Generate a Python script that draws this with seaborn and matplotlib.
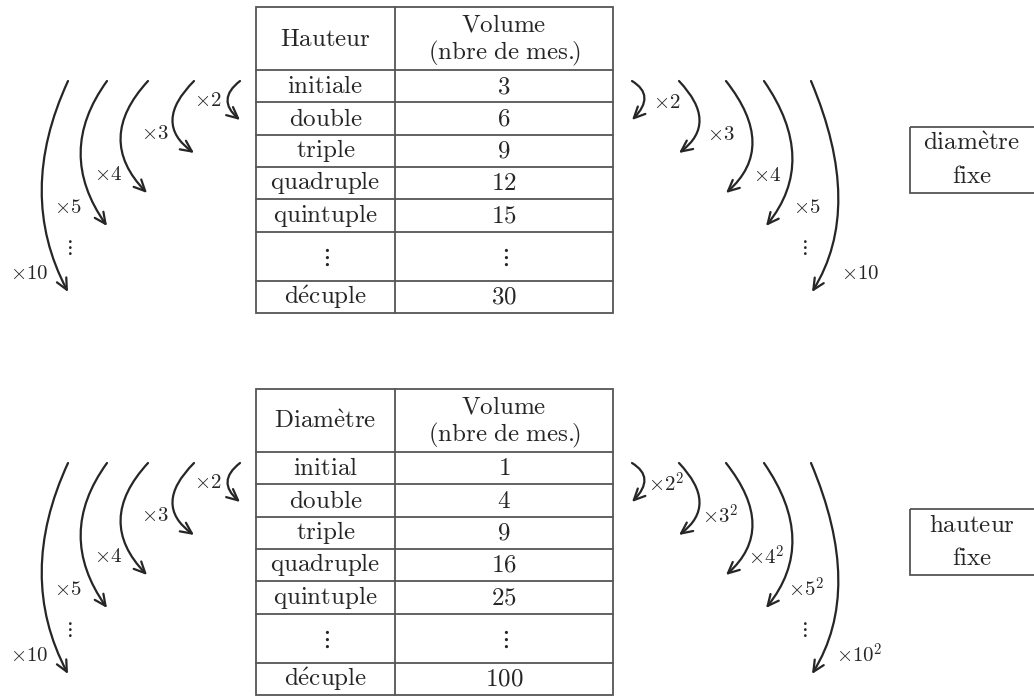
import matplotlib
matplotlib.use("Agg")
import matplotlib.pyplot as plt
import seaborn as sns
from matplotlib.path import Path
from matplotlib.patches import FancyArrowPatch, Rectangle

sns.set_theme(style="white")
plt.rcParams["mathtext.fontset"] = "cm"

# donnees
hauteurs = ["initiale", "double", "triple", "quadruple", "quintuple", "⋮", "décuple"]
volumes_h = ["3", "6", "9", "12", "15", "⋮", "30"]
diametres = ["initial", "double", "triple", "quadruple", "quintuple", "⋮", "décuple"]
volumes_d = ["1", "4", "9", "16", "25", "⋮", "100"]
facteurs = ["2", "3", "4", "5", "10"]

# mise en page (pixels)
row_edges = [7, 70, 102, 135, 167, 199, 232, 281, 313]
x_left, x_mid, x_right = 256, 395, 613
shift = 382

arr_left = [((240, 81), (228, 100), (240, 120)),
            ((194, 81), (173, 120), (194, 153)),
            ((148, 81), (121, 138), (147, 193)),
            ((107, 81), (81, 153), (107, 226)),
            ((68, 81), (42, 190), (68, 292))]
arr_right = [((632, 81), (644, 98), (632, 120)),
             ((679, 81), (699, 120), (679, 153)),
             ((726, 81), (752, 142), (726, 193)),
             ((764, 81), (792, 157), (766, 226)),
             ((811, 81), (838, 197), (812, 292))]
lab_left = [(208, 100), (155, 133), (108, 174), (68, 207), (29, 273)]
dots_left = (68, 247)
lab_right = [(653, 102), (707, 134), (753, 175), (793, 207), (841, 273)]
dots_right = (803, 247)

TXT = "#262626"
LINE = "#555555"
FS = 18
FS_LAB = 15


def tex(s):
    if s == "⋮":
        return r"$\vdots$"
    s = s.replace("é", r"\acute{e}").replace("è", r"\grave{e}").replace(" ", r"\ ")
    s = s.replace(".)", r".\!\!)")
    return r"$\mathrm{" + s + "}$"


def arrow(ax, p0, b, p2, dy):
    p0 = (p0[0], p0[1] + dy)
    b = (b[0], b[1] + dy)
    p2 = (p2[0], p2[1] + dy)
    c = (2 * b[0] - 0.5 * (p0[0] + p2[0]), 2 * b[1] - 0.5 * (p0[1] + p2[1]))
    path = Path([p0, c, p2], [Path.MOVETO, Path.CURVE3, Path.CURVE3])
    ax.add_patch(FancyArrowPatch(path=path, arrowstyle="->,head_length=0.8,head_width=0.38",
                                 mutation_scale=10, color=TXT, lw=1.6))


def bloc(ax, dy, titre, lignes, vols, boite, carre):
    e = [y + dy for y in row_edges]
    ax.add_patch(Rectangle((x_left, e[0]), x_right - x_left, e[-1] - e[0],
                           fill=False, ec=LINE, lw=1.3))
    ax.plot([x_mid, x_mid], [e[0], e[-1]], color=LINE, lw=1.3)
    for y in e[1:-1]:
        ax.plot([x_left, x_right], [y, y], color=LINE, lw=1.3)
    cl = (x_left + x_mid) / 2
    cr = (x_mid + x_right) / 2
    ax.text(cl, (e[0] + e[1]) / 2, tex(titre), ha="center", va="center", fontsize=FS, color=TXT)
    ax.text(cr, e[0] + 17, tex("Volume"), ha="center", va="center", fontsize=FS, color=TXT)
    ax.text(cr, e[0] + 46, tex("(nbre de mes.)"), ha="center", va="center", fontsize=FS, color=TXT)
    for i, (a, v) in enumerate(zip(lignes, vols)):
        yc = (e[i + 1] + e[i + 2]) / 2
        ax.text(cl, yc, tex(a), ha="center", va="center", fontsize=FS, color=TXT)
        ax.text(cr, yc, tex(v) if v == "⋮" else "$" + v + "$", ha="center", va="center",
                fontsize=FS, color=TXT)

    for a in arr_left:
        arrow(ax, *a, dy)
    for a in arr_right:
        arrow(ax, *a, dy)
    for f, (x, y) in zip(facteurs, lab_left):
        ax.text(x, y + dy, r"$\times " + f + "$", ha="center", va="center", fontsize=FS_LAB, color=TXT)
    ax.text(dots_left[0], dots_left[1] + dy, r"$\vdots$", ha="center", va="center", fontsize=FS_LAB, color=TXT)
    for f, (x, y) in zip(facteurs, lab_right):
        s = r"$\times " + f + ("^2$" if carre else "$")
        ax.text(x - (5 if carre else 0), y + dy, s, ha="left", va="center", fontsize=FS_LAB, color=TXT)
    ax.text(dots_right[0], dots_right[1] + dy, r"$\vdots$", ha="center", va="center", fontsize=FS_LAB, color=TXT)

    # boite laterale
    ax.add_patch(Rectangle((910, 127 + dy), 140, 66, fill=False, ec=LINE, lw=1.3, clip_on=True))
    ax.text(972, 143 + dy, tex(boite[0]), ha="center", va="center", fontsize=FS, color=TXT)
    ax.text(972, 176 + dy, tex(boite[1]), ha="center", va="center", fontsize=FS, color=TXT)


fig = plt.figure(figsize=(10.34, 6.97), dpi=100)
ax = fig.add_axes([0, 0, 1, 1])
ax.set_xlim(0, 1034)
ax.set_ylim(697, 0)
ax.axis("off")

bloc(ax, 0, "Hauteur", hauteurs, volumes_h, ("diamètre", "fixe"), False)
bloc(ax, shift, "Diamètre", diametres, volumes_d, ("hauteur", "fixe"), True)

fig.savefig("out.png", dpi=100)
